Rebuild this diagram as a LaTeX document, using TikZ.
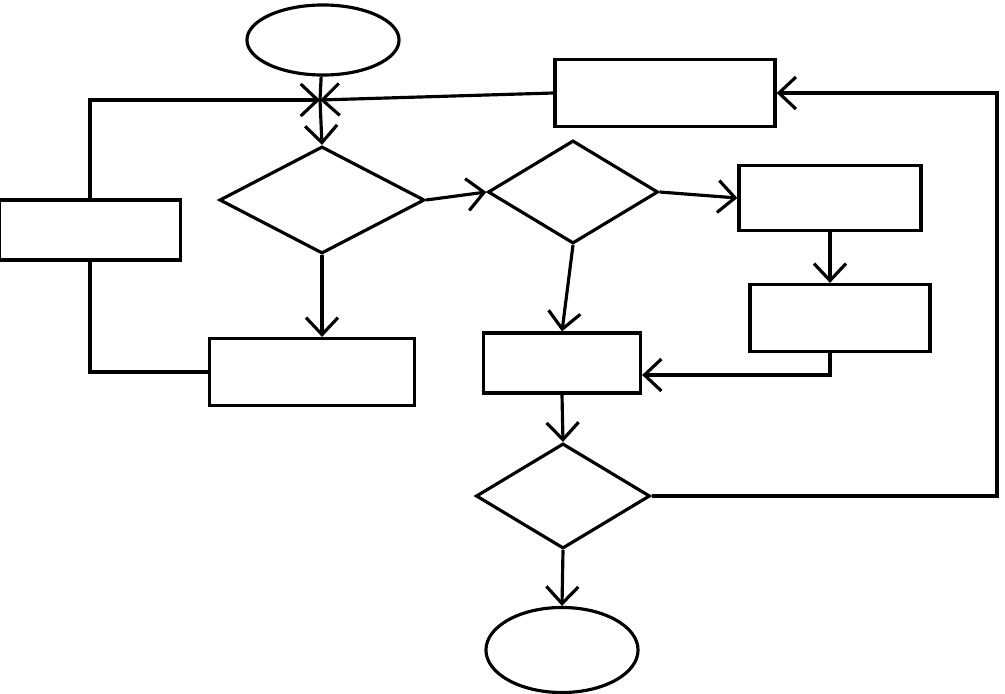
\documentclass[tikz,border=0pt]{standalone}
\usepackage{tikz}
\usetikzlibrary{positioning}
\usetikzlibrary{shapes.geometric}
\usetikzlibrary{arrows.meta}
\usetikzlibrary{calc}

\begin{document}
\begin{tikzpicture}[%
			x=0.01cm, y=-0.01cm, line width=0.9pt,
			box/.style={draw, rectangle, inner sep=0pt},
			term/.style={draw, ellipse, inner sep=0pt, minimum width=1.52cm},
			test/.style={draw, diamond, inner sep=0pt},
			flow/.style={-{Straight Barb[length=1.7mm, width=3.2mm]}}]
			\useasboundingbox (0,0) rectangle (1005,694);
			\node[term, minimum height=0.70cm](start) at (323,40){};
			\node[box, minimum width=2.20cm, minimum height=0.67cm](back) at (665,93){};
			\node[box, minimum width=1.81cm, minimum height=0.60cm](side) at (90,230){};
			\node[test, minimum width=2.05cm, minimum height=1.07cm](dec1) at (322,200){};
			\node[test, minimum width=1.70cm, minimum height=1.03cm](dec2) at (573,192){};
			\node[box, minimum width=2.05cm, minimum height=0.67cm](res1) at (312,372){};
			\node[box, minimum width=1.57cm, minimum height=0.60cm](res2) at (562,363){};
			\node[box, minimum width=1.82cm, minimum height=0.65cm](act1) at (830,198){};
			\node[box, minimum width=1.80cm, minimum height=0.67cm](act2) at (840,318){};
			\node[test, minimum width=1.74cm, minimum height=1.05cm](dec3) at (563,496){};
			\node[term, minimum height=0.85cm](stop) at (562,650){};
			\coordinate (join) at (320,100);
			\coordinate (far) at (997,93);
			\path[draw] (start) -- (join);
			\path[draw, flow] (join) -- (dec1.north);
			\path[draw, flow] (back.west) -- (join);
			\path[draw, flow] (side.north) |- (join);
			\path[draw] (side.south) |- (res1.west);
			\path[draw, flow] (dec1.south) -- (dec1.south |- res1.north);
			\path[draw, flow] (dec1.east) -- (dec2.west);
			\path[draw, flow] (dec2.east) -- (act1.west);
			\path[draw, flow] (dec2.south) -- (res2.north);
			\path[draw, flow] (act1.south) -- (act1.south |- act2.north);
			\path[draw, flow] (act2.south -| act1.south) |- ($(res2.east)+(0,12)$);
			\path[draw, flow] (res2.south) -- (dec3.north);
			\path[draw, flow] (dec3.east) -| (far) -- (back.east);
			\path[draw, flow] (dec3.south) -- (stop.north);
	\end{tikzpicture}
\end{document}
